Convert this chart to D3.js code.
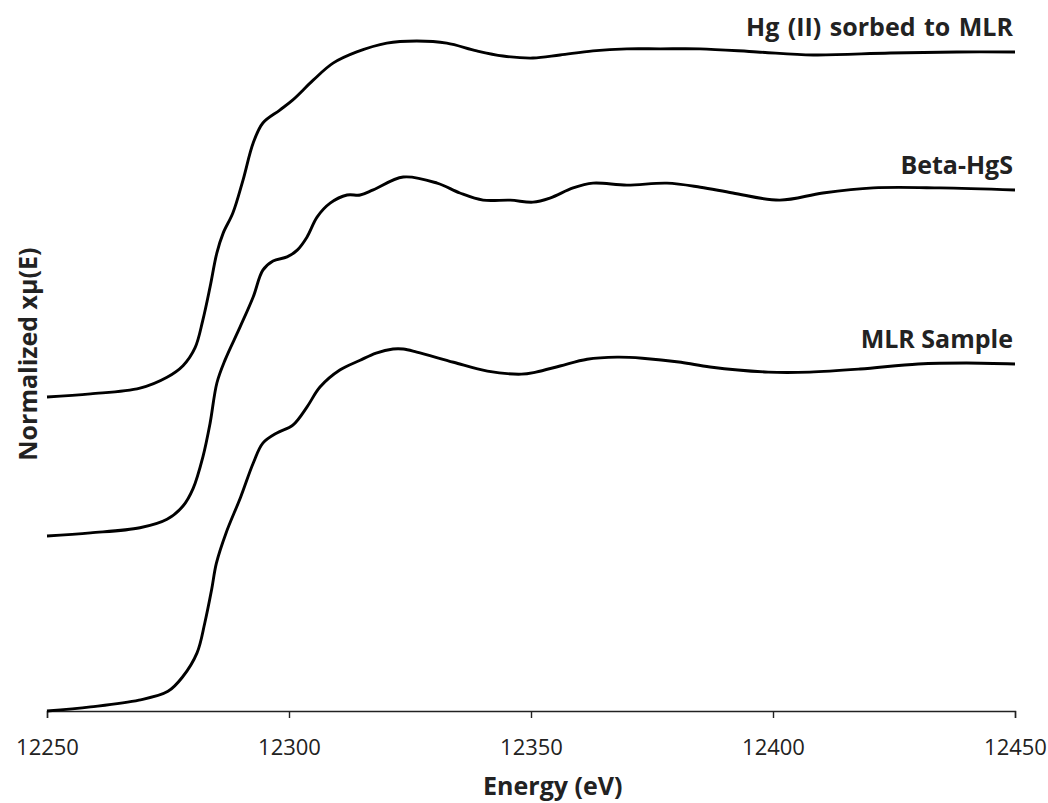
<!DOCTYPE html>
<html>
<head>
<meta charset="utf-8">
<script src="https://cdn.jsdelivr.net/npm/d3@7"></script>
<style>
    body { margin: 0; background: #fff; }
    text { font-family: "Open Sans", "Noto Sans", sans-serif; fill: #222; }
</style>
</head>
<body>
<svg id="chart" width="1048" height="803"></svg>
<script>
// Energy ticks (eV)
const xTicks = [12250, 12300, 12350, 12400, 12450];

// Series names, shown as labels at the right end of each curve
const seriesNames = ["MLR Sample", "Beta-HgS", "Hg (II) sorbed to MLR"];

// Vertical offset of each stacked spectrum (normalized units)
const offsets = [0, 0.515, 0.924];

// MLR Sample: energy (eV) and normalized absorption
const mlrEnergy = [12250, 12259, 12269, 12275, 12278, 12281, 12282.6, 12284, 12285, 12287,
    12290, 12292.6, 12294.6, 12297.5, 12300.8, 12303.7, 12306.4, 12310.5, 12314.7, 12318,
    12321.5, 12323.6, 12326.4, 12334, 12341, 12348, 12351, 12356, 12361.6, 12367.8,
    12373, 12381, 12387, 12399, 12407.6, 12418, 12430, 12440, 12450];
const mlrMu = [0, 0.012, 0.032, 0.058, 0.1, 0.171, 0.259, 0.356, 0.435, 0.524,
    0.629, 0.729, 0.788, 0.818, 0.841, 0.894, 0.953, 1.003, 1.032, 1.053,
    1.065, 1.065, 1.056, 1.026, 1.0, 0.991, 0.997, 1.015, 1.035, 1.041,
    1.038, 1.026, 1.012, 0.997, 0.997, 1.006, 1.021, 1.024, 1.021];

// Beta-HgS
const betaEnergy = [12250, 12259, 12269.2, 12274.8, 12278.1, 12280.2, 12282.2, 12283.7, 12285.1, 12286.8,
    12289.9, 12292.6, 12294.6, 12296.7, 12299.6, 12301.7, 12303.7, 12305.8, 12308.5, 12312,
    12314.7, 12317.4, 12323.6, 12330.6, 12335.3, 12340.1, 12345.7, 12350.4, 12353.9, 12358.7,
    12362.8, 12369.8, 12378.1, 12385, 12391.7, 12401.4, 12410.3, 12420.7, 12434.5, 12450];
const betaMu = [0, 0.009, 0.024, 0.049, 0.088, 0.14, 0.232, 0.332, 0.45, 0.518,
    0.615, 0.703, 0.782, 0.809, 0.821, 0.841, 0.879, 0.938, 0.979, 1.003,
    1.003, 1.018, 1.056, 1.038, 1.009, 0.988, 0.988, 0.982, 0.994, 1.024,
    1.038, 1.032, 1.038, 1.026, 1.009, 0.988, 1.009, 1.024, 1.024, 1.018];

// Hg (II) sorbed to MLR
const hgEnergy = [12250, 12259, 12269.2, 12274.8, 12278.1, 12280.6, 12282.2, 12283.7, 12285.1, 12286.4,
    12288.4, 12290.5, 12292.6, 12294.6, 12298.1, 12300.8, 12305, 12309.1, 12314, 12320.2,
    12326.4, 12332.6, 12338.8, 12344.2, 12350.4, 12356, 12362.8, 12369.8, 12376.7, 12384.9,
    12396.7, 12408.3, 12424.2, 12438, 12450];
const hgMu = [0, 0.009, 0.026, 0.058, 0.092, 0.145, 0.226, 0.324, 0.424, 0.482,
    0.541, 0.638, 0.747, 0.806, 0.844, 0.874, 0.932, 0.982, 1.015, 1.041,
    1.047, 1.041, 1.018, 1.003, 0.997, 1.006, 1.018, 1.024, 1.024, 1.024,
    1.015, 1.006, 1.012, 1.015, 1.015];

const series = [
    { energy: mlrEnergy, mu: mlrMu },
    { energy: betaEnergy, mu: betaMu },
    { energy: hgEnergy, mu: hgMu }
].map((s, i) => ({
    name: seriesNames[i],
    points: s.energy.map((e, j) => ({ e, v: s.mu[j] + offsets[i] }))
}));

const svg = d3.select("#chart");

// Plot area
const margin = { left: 47, right: 33, top: 21, bottom: 92 };
const width = +svg.attr("width");
const height = +svg.attr("height");

const x = d3.scaleLinear()
    .domain([12250, 12450])
    .range([margin.left, width - margin.right]);
const y = d3.scaleLinear()
    .domain([0, 2.03])
    .range([height - margin.bottom, margin.top]);

// X axis
const xAxis = svg.append("g")
    .attr("transform", `translate(0,${y(0)})`)
    .call(d3.axisBottom(x).tickValues(xTicks).tickFormat(d3.format("d")).tickSize(7).tickPadding(21));
xAxis.select(".domain").attr("stroke", "#222").attr("stroke-width", 1.4);
xAxis.selectAll(".tick line").attr("stroke", "#222").attr("stroke-width", 1.4);
xAxis.selectAll(".tick text")
    .attr("font-size", 22)
    .attr("font-family", "'Open Sans', sans-serif")
    .attr("fill", "#222");

// Axis titles
svg.append("text")
    .attr("x", x(12354.5))
    .attr("y", 795)
    .attr("text-anchor", "middle")
    .attr("font-size", 25)
    .attr("font-weight", "bold")
    .text("Energy (eV)");

svg.append("text")
    .attr("transform", `translate(37,${y(1.05)}) rotate(-90)`)
    .attr("text-anchor", "middle")
    .attr("font-size", 25)
    .attr("font-weight", "bold")
    .text("Normalized xμ(E)");

// Spectra
const line = d3.line()
    .x((d) => x(d.e))
    .y((d) => y(d.v))
    .curve(d3.curveCatmullRom.alpha(0.5));

svg.append("g")
    .selectAll("path")
    .data(series)
    .enter()
    .append("path")
    .attr("d", (d) => line(d.points))
    .attr("fill", "none")
    .attr("stroke", "#000")
    .attr("stroke-width", 2.9)
    .attr("stroke-linejoin", "round");

// Series labels above the right end of each curve
svg.append("g")
    .selectAll("text")
    .data(series)
    .enter()
    .append("text")
    .attr("x", x(12450) - 2)
    .attr("y", (d) => y(d.points[d.points.length - 1].v) - 16)
    .attr("text-anchor", "end")
    .attr("font-size", 25)
    .attr("font-weight", "bold")
    .attr("word-spacing", (d, i) => (i === 2 ? 2 : 0))
    .text((d) => d.name);
</script>
</body>
</html>
